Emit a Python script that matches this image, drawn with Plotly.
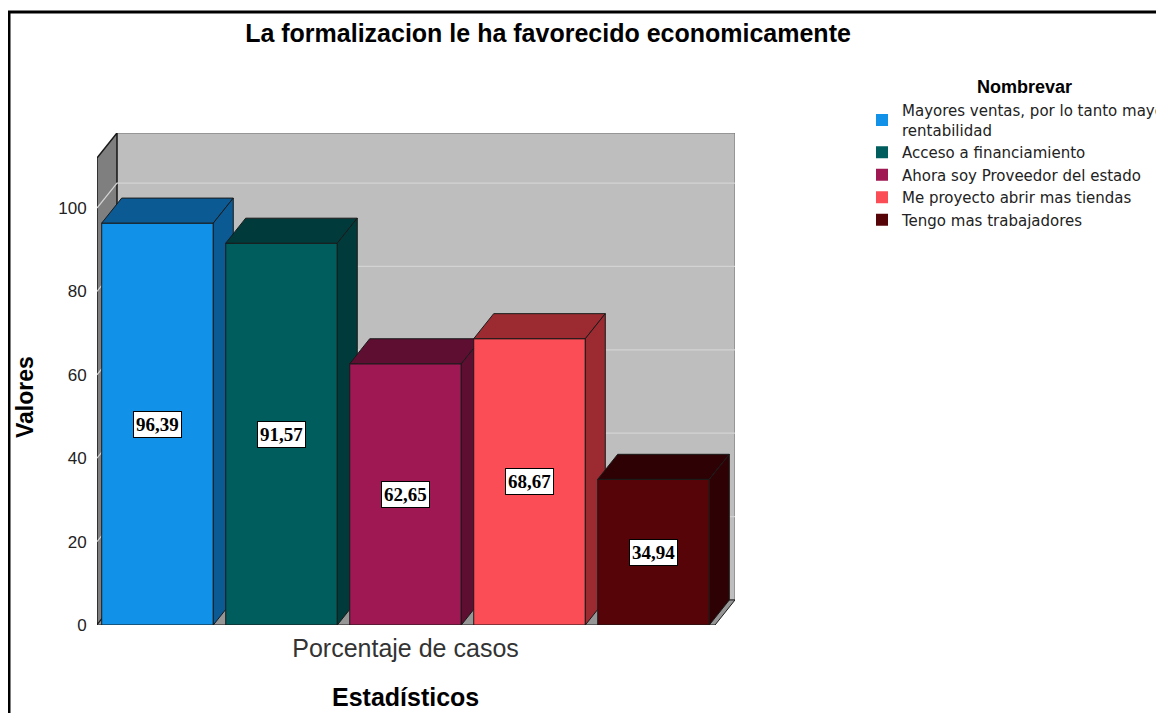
import plotly.graph_objects as go

titulo = "La formalizacion le ha favorecido economicamente"
categorias = [
    "Mayores ventas, por lo tanto mayor<br>rentabilidad",
    "Acceso a financiamiento",
    "Ahora soy Proveedor del estado",
    "Me proyecto abrir mas tiendas",
    "Tengo mas trabajadores",
]
valores = [96.39, 91.57, 62.65, 68.67, 34.94]
grupo = "Porcentaje de casos"
ticks_y = [0, 20, 40, 60, 80, 100]

cores = ["#1192e8", "#005d5d", "#9f1853", "#fa4d56", "#570408"]
cores_escuras = ["#0b5a94", "#003a3a", "#5e0e31", "#9c2b31", "#2e0204"]

# geometria do falso 3D (unidades dos eixos)
X0, X1 = -0.488, 4.657
Y1 = 118
DX, DY = 0.161, 6.0
MEIA = 0.45

# a página desloca a figura 8px (margem do body)
OFF = 8
W, H = 1164, 713


def poligono(xs, ys, cor, linha="#1a1a1a", largura=1):
    return go.Scatter(
        x=xs + [xs[0]], y=ys + [ys[0]], mode="lines", fill="toself",
        fillcolor=cor, line=dict(color=linha, width=largura),
        hoverinfo="skip", showlegend=False,
    )


fig = go.Figure()

# paredes e chão
fig.add_trace(poligono([X0 + DX, X1, X1, X0 + DX], [DY, DY, Y1, Y1], "#bebebe", "#6e6e6e"))
fig.add_trace(poligono([X0, X0, X0 + DX, X0 + DX], [0, Y1 - DY, Y1, DY], "#7f7f7f", "#1a1a1a", 1.5))
fig.add_trace(poligono([X0, X1 - DX, X1, X0 + DX], [0, 0, DY, DY], "#969696", "#1a1a1a"))

# linhas de grade
for t in ticks_y[1:]:
    fig.add_trace(go.Scatter(
        x=[X0, X0 + DX, X1], y=[t, t + DY, t + DY], mode="lines",
        line=dict(color="#d3d3d3", width=1.2), hoverinfo="skip", showlegend=False,
    ))

# barras (frente, topo, lado)
for i, (v, c, ce) in enumerate(zip(valores, cores, cores_escuras)):
    xa, xb = i - MEIA, i + MEIA
    fig.add_trace(poligono([xa, xb, xb, xa], [0, 0, v, v], c))
    fig.add_trace(poligono([xa, xa + DX, xb + DX, xb], [v, v + DY, v + DY, v], ce))
    fig.add_trace(poligono([xb, xb + DX, xb + DX, xb], [0, DY, v + DY, v], ce))

# entradas da legenda
for nome, c in zip(categorias, cores):
    fig.add_trace(go.Bar(x=[None], y=[None], name=nome, marker_color=c,
                         marker_line_width=0))

for i, v in enumerate(valores):
    fig.add_annotation(
        x=i, y=v / 2, text=f"<b>{v:.2f}</b>".replace(".", ","), showarrow=False,
        font=dict(family="Liberation Serif", size=19, color="black"),
        bgcolor="white", bordercolor="black", borderwidth=1, borderpad=2,
    )

fig.add_annotation(
    x=(1024 - 97) / 638, y=(625 - 87) / 492, xref="paper", yref="paper",
    text="<b>Nombrevar</b>", showarrow=False, xanchor="center", yanchor="middle",
    font=dict(family="Liberation Sans", size=18, color="black"),
)
fig.add_annotation(
    x=(25 - 97) / 638, y=(625 - 397) / 492, xref="paper", yref="paper",
    text="<b>Valores</b>", showarrow=False, textangle=-90,
    xanchor="center", yanchor="middle",
    font=dict(family="Liberation Sans", size=23, color="black"),
)
fig.add_annotation(
    x=(len(valores) - 1) / 2, y=(625 - 697) / 492, xref="x", yref="paper",
    text="<b>Estadísticos</b>", showarrow=False,
    xanchor="center", yanchor="middle",
    font=dict(family="Liberation Sans", size=25, color="black"),
)

fig.update_layout(
    width=W, height=H,
    margin=dict(l=97 - OFF, r=W - (735 - OFF), t=133 - OFF, b=H - (625 - OFF)),
    paper_bgcolor="white", plot_bgcolor="white",
    font=dict(family="Liberation Sans", color="#222"),
    title=dict(text=f"<b>{titulo}</b>", x=(548 - OFF) / W, xanchor="center",
               y=1 - (33 - OFF) / H, yanchor="middle",
               font=dict(size=25, color="black")),
    xaxis=dict(range=[X0, X1], showgrid=False, zeroline=False, showline=False,
               tickvals=[(len(valores) - 1) / 2], ticktext=[grupo], ticks="",
               ticklabelstandoff=6, tickfont=dict(size=25, color="#333")),
    yaxis=dict(range=[0, Y1], showgrid=False, zeroline=False, showline=False,
               tickvals=ticks_y, ticks="outside", ticklen=6, tickcolor="rgba(0,0,0,0)",
               tickfont=dict(size=17, color="#222")),
    legend=dict(xref="container", yref="container",
                x=(862 - OFF) / W, y=1 - (94 - OFF) / H, xanchor="left", yanchor="top",
                font=dict(family="DejaVu Sans", size=15, color="#222"), tracegroupgap=0,
                bgcolor="rgba(0,0,0,0)"),
    showlegend=True,
)

# moldura (borda esquerda e superior)
bx = (OFF + 1 - 97) / 638
by = (625 - 12) / 492
fig.add_shape(type="path", xref="paper", yref="paper",
              path=f"M {bx} -1 L {bx} {by} L 2 {by}",
              line=dict(color="black", width=3))

fig.write_html("out.html")
